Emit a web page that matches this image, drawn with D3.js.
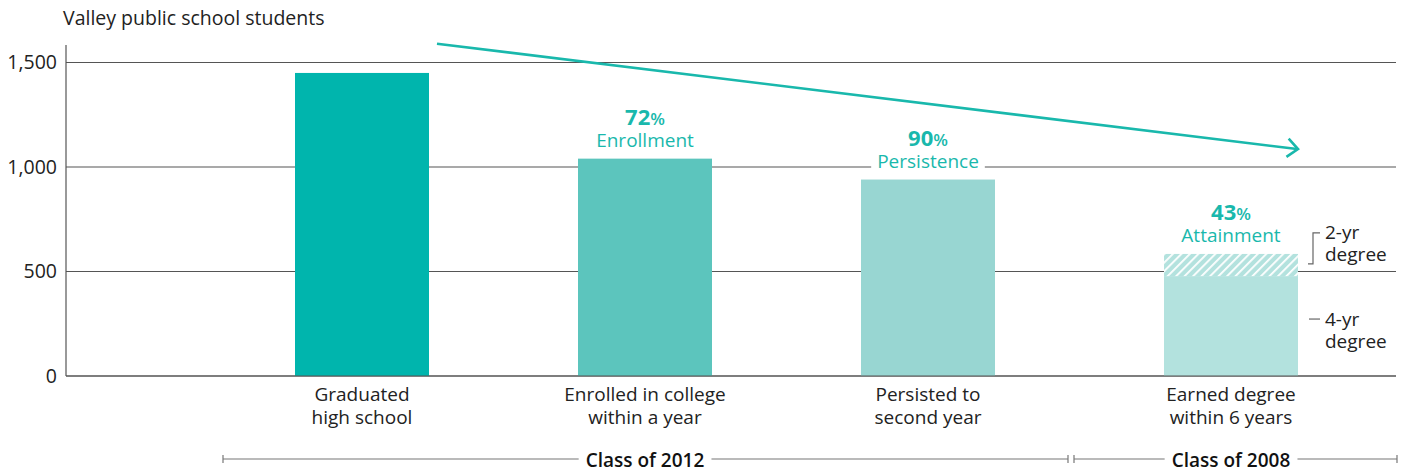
<!DOCTYPE html>
<html>
<head>
<meta charset="utf-8">
<script src="https://cdn.jsdelivr.net/npm/d3@7"></script>
<style>
  html, body { margin: 0; padding: 0; background: #fff; }
  svg { display: block; }
  text { font-family: "Open Sans", Lato, sans-serif; }
</style>
</head>
<body>
<svg id="chart" width="1403" height="472"></svg>
<script>
// Student pipeline: each stage of the journey from high school to a degree
const stages = ["Graduated\nhigh school", "Enrolled in college\nwithin a year", "Persisted to\nsecond year", "Earned degree\nwithin 6 years"];
const cohorts = ["Class of 2012", "Class of 2012", "Class of 2012", "Class of 2008"];
const students = [1450, 1040, 940, 584];
const fourYear = [null, null, null, 478];
const twoYear = [null, null, null, 106];
const rateValues = [null, "72", "90", "43"];
const rateNames = [null, "Enrollment", "Persistence", "Attainment"];
const barColors = ["#00b5ad", "#5cc5bd", "#98d6d2", "#b3e2de"];
const yTicks = [0, 500, 1000, 1500];
const groups = [{ name: "Class of 2012", from: 0, to: 2 }, { name: "Class of 2008", from: 3, to: 3 }];

const accent = "#19b8ac";
const ink = "#222";
const grid = "#555";
const FS = 19;

const svg = d3.select("#chart");

const y = d3.scaleLinear().domain([0, 1500]).range([376, 62.5]);
const x = d3.scaleBand().domain(d3.range(stages.length)).range([295, 1278]).paddingInner(0.5265).paddingOuter(0);
const cohortGap = 20;
const bx = i => x(i) + (cohorts[i] === cohorts[0] ? 0 : cohortGap);
const bw = x.bandwidth();
const xLeft = 66, xRight = 1396;

// hatch for the 2-yr degree slice
const defs = svg.append("defs");
const pat = defs.append("pattern")
  .attr("id", "hatch").attr("patternUnits", "userSpaceOnUse")
  .attr("width", 6).attr("height", 6)
  .attr("patternTransform", "rotate(45)");
pat.append("rect").attr("width", 6).attr("height", 6).attr("fill", barColors[3]);
pat.append("rect").attr("width", 1.8).attr("height", 6).attr("fill", "#fff");

// title
svg.append("text").attr("x", 63).attr("y", 25)
  .attr("font-size", 19.5).attr("fill", ink)
  .text("Valley public school students");

// y axis with gridlines
const yAxis = d3.axisLeft(y).tickValues(yTicks).tickFormat(d3.format(",")).tickSize(0).tickPadding(9);
const gy = svg.append("g").attr("transform", `translate(${xLeft},0)`).call(yAxis);
gy.select(".domain").remove();
gy.selectAll("text").attr("font-size", 19.5).attr("fill", ink).attr("font-family", "'Open Sans', sans-serif");

svg.append("g").selectAll("line").data(yTicks).join("line")
  .attr("x1", xLeft).attr("x2", xRight)
  .attr("y1", d => y(d)).attr("y2", d => y(d))
  .attr("stroke", grid).attr("stroke-width", 1.2);
svg.append("line").attr("x1", xLeft).attr("x2", xLeft).attr("y1", 45).attr("y2", y(0))
  .attr("stroke", grid).attr("stroke-width", 1.2);

// bars
const bars = svg.append("g");
stages.forEach((s, i) => {
  if (fourYear[i] !== null) {
    bars.append("rect").attr("x", bx(i)).attr("width", bw)
      .attr("y", y(fourYear[i])).attr("height", y(0) - y(fourYear[i]))
      .attr("fill", barColors[i]);
    bars.append("rect").attr("x", bx(i)).attr("width", bw)
      .attr("y", y(fourYear[i] + twoYear[i])).attr("height", y(fourYear[i]) - y(fourYear[i] + twoYear[i]))
      .attr("fill", "url(#hatch)");
  } else {
    bars.append("rect").attr("x", bx(i)).attr("width", bw)
      .attr("y", y(students[i])).attr("height", y(0) - y(students[i]))
      .attr("fill", barColors[i]);
  }
});

// baseline redrawn above bars
svg.append("line").attr("x1", xLeft).attr("x2", xRight).attr("y1", y(0)).attr("y2", y(0))
  .attr("stroke", grid).attr("stroke-width", 1.2);

// rate labels above bars: bold percentage over the stage name
const rates = svg.append("g");
stages.forEach((s, i) => {
  if (!rateNames[i]) return;
  const cx = bx(i) + bw / 2;
  const base = y(students[i]) - 12;
  const t = rates.append("text").attr("text-anchor", "middle").attr("fill", accent);
  t.append("tspan").attr("x", cx).attr("y", base - 22).attr("font-weight", 700).attr("font-size", 22).text(rateValues[i]);
  t.append("tspan").attr("font-weight", 600).attr("font-size", 17).text("%");
  const nm = t.append("tspan").attr("x", cx).attr("y", base).attr("font-size", FS).text(rateNames[i]);
  // knock the gridline out behind the stage name
  const w = nm.node().getComputedTextLength();
  rates.insert("rect", () => t.node())
    .attr("x", cx - w / 2 - 6).attr("y", base - 16).attr("width", w + 12).attr("height", 21)
    .attr("fill", "#fff");
});

// category labels
const cats = svg.append("g");
stages.forEach((s, i) => {
  const t = cats.append("text").attr("x", bx(i) + bw / 2).attr("y", 401)
    .attr("text-anchor", "middle").attr("font-size", FS).attr("fill", ink);
  s.split("\n").forEach((line, k) => {
    t.append("tspan").attr("x", bx(i) + bw / 2).attr("dy", k === 0 ? 0 : 23).text(line);
  });
});

// downward trend arrow
const a0 = { x: bx(0) + bw + 8, y: y(1590) };
const a1 = { x: bx(3) + bw, y: y(1086) };
svg.append("line").attr("x1", a0.x).attr("y1", a0.y).attr("x2", a1.x - 1).attr("y2", a1.y)
  .attr("stroke", accent).attr("stroke-width", 2.6);
const ang = Math.atan2(a1.y - a0.y, a1.x - a0.x);
const hl = 14, ha = 0.72;
svg.append("path")
  .attr("d", `M${a1.x - hl * Math.cos(ang - ha)},${a1.y - hl * Math.sin(ang - ha)} L${a1.x},${a1.y} L${a1.x - hl * Math.cos(ang + ha)},${a1.y - hl * Math.sin(ang + ha)}`)
  .attr("fill", "none").attr("stroke", accent).attr("stroke-width", 2.6);

// legend for the degree split
const lg = svg.append("g");
const lx = bx(3) + bw + 15;
const topY = y(fourYear[3] + twoYear[3]) - 21;
const botY = y(fourYear[3] + twoYear[3]) + 10;
lg.append("path")
  .attr("d", `M${lx + 7},${topY} H${lx} V${botY} H${lx - 5}`)
  .attr("fill", "none").attr("stroke", "#666").attr("stroke-width", 1.2);
const l1 = lg.append("text").attr("x", lx + 12).attr("y", topY + 6).attr("font-size", FS).attr("fill", ink);
l1.append("tspan").attr("x", lx + 12).text("2-yr");
l1.append("tspan").attr("x", lx + 12).attr("dy", 22).text("degree");
const dashY = y(fourYear[3] / 2) - 7;
lg.append("line").attr("x1", lx - 4).attr("x2", lx + 7).attr("y1", dashY).attr("y2", dashY)
  .attr("stroke", "#666").attr("stroke-width", 1.2);
const l2 = lg.append("text").attr("x", lx + 12).attr("y", dashY + 7).attr("font-size", FS).attr("fill", ink);
l2.append("tspan").attr("x", lx + 12).text("4-yr");
l2.append("tspan").attr("x", lx + 12).attr("dy", 22).text("degree");

// cohort brackets along the bottom
const spans = [{ x1: 223, x2: 1068 }, { x1: 1074, x2: 1397 }];
groups.forEach((g, k) => {
  const gg = svg.append("g");
  const x1 = spans[k].x1, x2 = spans[k].x2;
  const by = 459;
  const cx = (bx(g.from) + bx(g.to) + bw) / 2;
  const t = gg.append("text").attr("x", cx).attr("y", by + 7.5)
    .attr("text-anchor", "middle").attr("font-size", 19).attr("font-weight", 600)
    .attr("fill", "#111").text(g.name);
  const bb = t.node().getBBox();
  gg.append("line").attr("x1", x1).attr("x2", bb.x - 7).attr("y1", by).attr("y2", by).attr("stroke", "#777").attr("stroke-width", 1.2);
  gg.append("line").attr("x1", bb.x + bb.width + 7).attr("x2", x2).attr("y1", by).attr("y2", by).attr("stroke", "#777").attr("stroke-width", 1.2);
  [x1, x2].forEach(xx => gg.append("line").attr("x1", xx).attr("x2", xx).attr("y1", by - 4).attr("y2", by + 4).attr("stroke", "#777").attr("stroke-width", 1.2));
});
</script>
</body>
</html>
